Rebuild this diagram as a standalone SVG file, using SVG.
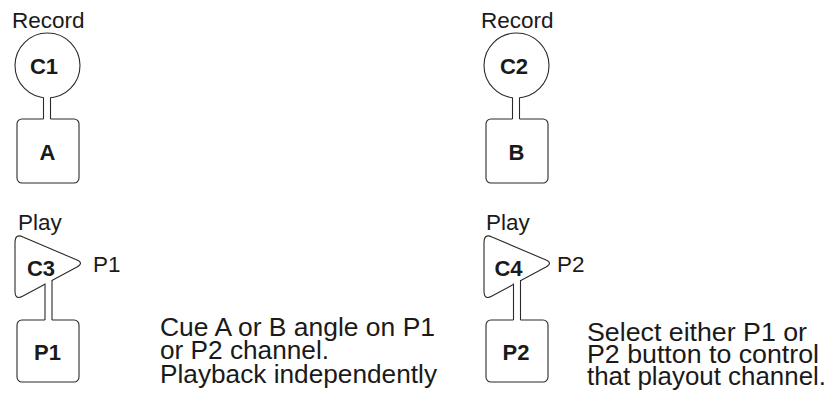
<svg xmlns="http://www.w3.org/2000/svg" width="831" height="398" viewBox="0 0 831 398">
<style>
.sh{fill:#fff;stroke:#2a2a2a;stroke-width:1.1}
.stem{fill:#fff;stroke:none}
.ln{stroke:#2a2a2a;stroke-width:1.1;fill:none}
.t{font-family:"Liberation Sans",Arial,sans-serif;font-size:22.5px;fill:#1a1a1a}
.b{font-family:"Liberation Sans",Arial,sans-serif;font-size:22px;font-weight:bold;fill:#1a1a1a;text-anchor:middle}
.cap{font-family:"Liberation Sans",Arial,sans-serif;font-size:25px;fill:#1a1a1a}
</style>
<rect width="831" height="398" fill="#fff"/>
<g id="C1">
<text class="t" x="12" y="28">Record</text>
<circle class="sh" cx="47.5" cy="65.5" r="32.5"/>
<text class="b" x="44" y="73.5">C1</text>
</g>
<g id="A">
<rect class="sh" x="17" y="119" width="62" height="64" rx="5"/>
<text class="b" x="47.5" y="159.5">A</text>
</g>
<g id="C2">
<text class="t" x="481" y="28">Record</text>
<circle class="sh" cx="516.5" cy="65.5" r="32.5"/>
<text class="b" x="514" y="73.5">C2</text>
</g>
<g id="B">
<rect class="sh" x="486" y="119" width="62" height="64" rx="5"/>
<text class="b" x="516.5" y="159.5">B</text>
</g>
<g id="C3">
<text class="t" x="18" y="230">Play</text>
<path class="sh" d="M15,243 Q15,233 23,237 L77,260 Q84,263 77,267 L23,296 Q15,300.5 15,291 Z"/>
<text class="b" x="41" y="276">C3</text>
<text class="t" x="93" y="272">P1</text>
</g>
<g id="P1">
<rect class="sh" x="17" y="320" width="62" height="62" rx="5"/>
<text class="b" x="47.5" y="360">P1</text>
</g>
<g id="C4">
<text class="t" x="486" y="230">Play</text>
<path class="sh" d="M484,243 Q484,233 492,237 L546,260 Q553,263 546,267 L492,296 Q484,300.5 484,291 Z"/>
<text class="b" x="508.5" y="276">C4</text>
<text class="t" x="557" y="272">P2</text>
</g>
<g id="P2">
<rect class="sh" x="486" y="320" width="62" height="62" rx="5"/>
<text class="b" x="516" y="360">P2</text>
</g>
<g id="connectors">
<rect class="stem" x="43.5" y="96" width="7" height="25"/>
<path class="ln" d="M43.5,97.5 V119 M50.5,97.5 V119"/>
<rect class="stem" x="512.5" y="96" width="7" height="25"/>
<path class="ln" d="M512.5,97.5 V119 M519.5,97.5 V119"/>
<rect class="stem" x="45" y="280" width="7" height="42"/>
<path class="ln" d="M45,283.5 V320 M52,280 V320"/>
<rect class="stem" x="513.5" y="280" width="7" height="42"/>
<path class="ln" d="M513.5,283.5 V320 M520.5,280 V320"/>
</g>
<g id="captions">
<text class="cap" x="160" y="336" textLength="275" lengthAdjust="spacingAndGlyphs">Cue A or B angle on P1</text>
<text class="cap" x="160" y="359" textLength="169" lengthAdjust="spacingAndGlyphs">or P2 channel.</text>
<text class="cap" x="160" y="383" textLength="277" lengthAdjust="spacingAndGlyphs">Playback independently</text>
<text class="cap" x="587" y="341" textLength="220" lengthAdjust="spacingAndGlyphs">Select either P1 or</text>
<text class="cap" x="587" y="363" textLength="232" lengthAdjust="spacingAndGlyphs">P2 button to control</text>
<text class="cap" x="587" y="385" textLength="239" lengthAdjust="spacingAndGlyphs">that playout channel.</text>
</g>
</svg>
